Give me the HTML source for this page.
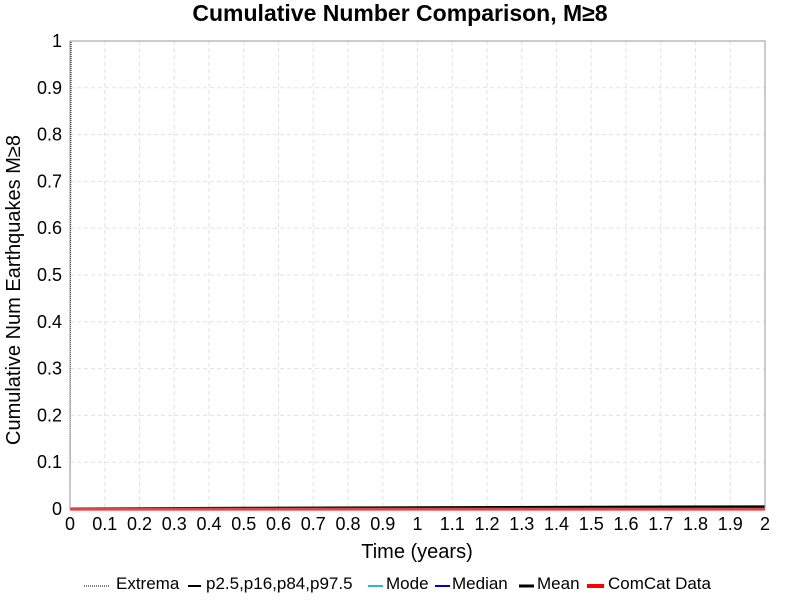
<!DOCTYPE html>
<html><head><meta charset="utf-8"><style>
body{margin:0;background:#fff;font-family:"Liberation Sans",sans-serif}
svg text{font-family:"Liberation Sans",sans-serif}
</style></head><body>
<svg width="800" height="600">
<text x="400" y="21" text-anchor="middle" font-size="23" font-weight="bold">Cumulative Number Comparison, M≥8</text>
<g id="grid"></g>
<g id="marks"></g>
<rect x="70" y="41" width="695" height="468" fill="none" stroke="#999" stroke-width="1"/>
<g id="ticks"></g>
<text x="417" y="558" text-anchor="middle" font-size="20">Time (years)</text>
<text transform="translate(20,290) rotate(-90)" text-anchor="middle" font-size="20">Cumulative Num Earthquakes M≥8</text>
<g font-size="17">
<g><line x1="84" y1="586" x2="110" y2="586" stroke="#000" stroke-dasharray="1,1"/><text x="116" y="589">Extrema</text></g>
<g><line x1="188" y1="586" x2="201" y2="586" stroke="#000" stroke-width="2"/><text x="206" y="589">p2.5,p16,p84,p97.5</text></g>
<g><line x1="368" y1="586" x2="383" y2="586" stroke="#22bbcc" stroke-width="2"/><text x="386" y="589">Mode</text></g>
<g><line x1="435" y1="586" x2="450" y2="586" stroke="#0000cc" stroke-width="2"/><text x="452" y="589">Median</text></g>
<g><line x1="519" y1="586" x2="534" y2="586" stroke="#000" stroke-width="3"/><text x="537" y="589">Mean</text></g>
<g><line x1="587" y1="586" x2="604" y2="586" stroke="#f00" stroke-width="4"/><text x="608" y="589">ComCat Data</text></g>
</g>
</svg>
<script>
const xTicks=[0,0.1,0.2,0.3,0.4,0.5,0.6,0.7,0.8,0.9,1,1.1,1.2,1.3,1.4,1.5,1.6,1.7,1.8,1.9,2];
const yTicks=[0,0.1,0.2,0.3,0.4,0.5,0.6,0.7,0.8,0.9,1];
const times=[0,0.25,0.5,0.75,1,1.25,1.5,1.75,2];
const meanVals=[0,0.0008,0.0015,0.0021,0.0027,0.0032,0.0037,0.0042,0.0046];
const extremaMaxT=[0,0.003,2];
const extremaMaxV=[0,1,1];
const comcatT=[0,2];
const comcatV=[0,0];
const X=v=>70+v/2*695, Y=v=>509-v*468;
const ns='http://www.w3.org/2000/svg';
const grid=document.getElementById('grid'),ticks=document.getElementById('ticks'),marks=document.getElementById('marks');
function mk(tag,at,parent){const e=document.createElementNS(ns,tag);for(const k in at)e.setAttribute(k,at[k]);parent.appendChild(e);return e;}
xTicks.forEach(t=>{
 const l=mk('line',{x1:X(t),x2:X(t),y1:41,y2:509,stroke:'#e2e2e2','stroke-dasharray':'4,3'},grid);
 
 
 const tx=mk('text',{x:X(t),y:530,'text-anchor':'middle','font-size':'18'},ticks);tx.textContent=t;
 
 
});
yTicks.forEach(t=>{
 const l=mk('line',{x1:70,x2:765,y1:Y(t),y2:Y(t),stroke:'#e2e2e2','stroke-dasharray':'4,3'},grid);
 
 
 const tx=mk('text',{x:62,y:Y(t)+6,'text-anchor':'end','font-size':'18'},ticks);tx.textContent=t;
 
 
});
function path(ts,vs,at,name){
 let d='';ts.forEach((t,i)=>{d+=(i?'L':'M')+X(t)+','+Y(vs[i]);});
 const p=mk('path',Object.assign({d:d,fill:'none'},at),marks);
 
 
}
path(extremaMaxT,extremaMaxV,{stroke:'#000','stroke-width':1,'stroke-dasharray':'1,1'},'extrema-line');
path(times,meanVals,{stroke:'#000','stroke-width':3},'mean-line');
path(comcatT,comcatV,{stroke:'#f00','stroke-width':3},'comcat-line');
</script>
</body></html>
